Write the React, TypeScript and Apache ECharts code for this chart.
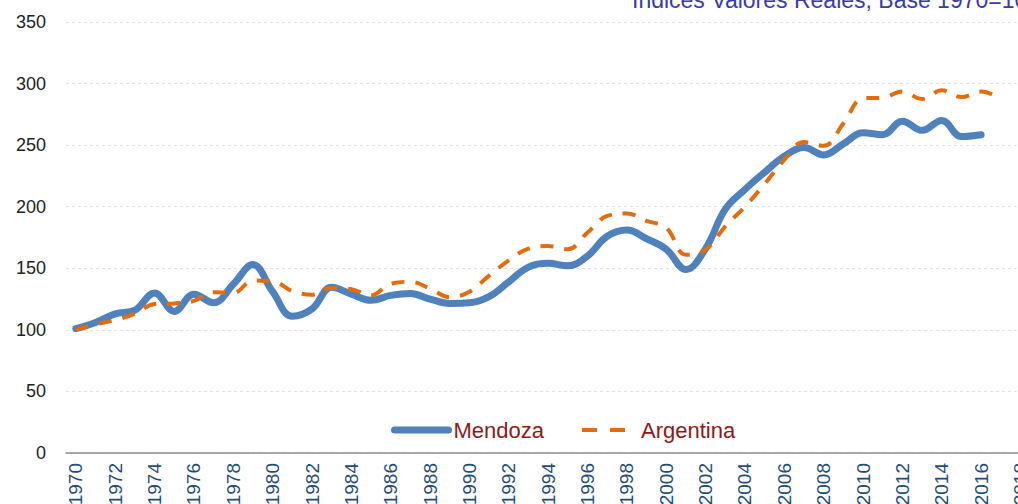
import React, { useEffect, useRef } from "react";
import * as echarts from "echarts";

const years = [
  "1970", "1971", "1972", "1973", "1974", "1975", "1976", "1977", "1978", "1979",
  "1980", "1981", "1982", "1983", "1984", "1985", "1986", "1987", "1988", "1989",
  "1990", "1991", "1992", "1993", "1994", "1995", "1996", "1997", "1998", "1999",
  "2000", "2001", "2002", "2003", "2004", "2005", "2006", "2007", "2008", "2009",
  "2010", "2011", "2012", "2013", "2014", "2015", "2016", "2017", "2018",
];

// Mendoza 1970–2016
const mendoza = [
  101, 106, 113, 116, 130, 115, 129, 122, 137, 153,
  131, 111, 117, 134.5, 129, 124, 128, 129.5, 125, 121.5,
  122, 127, 139, 151, 154, 152, 160, 176, 181, 174,
  165.5, 149, 166, 198, 214, 228, 241, 248, 242, 251,
  260, 258.5, 269.5, 262, 270, 257, 258.5,
];

// Argentina 1970–2017
const argentina = [
  100, 104.5, 108, 113, 121, 121.5, 123.5, 130.5, 130, 140,
  139.5, 131.5, 128.5, 134, 133, 128, 137.5, 139, 133.5, 126.5,
  131, 144, 156.5, 166, 168, 165.5, 179, 192.5, 194.5, 188.5,
  183, 161, 165, 184, 200, 218.5, 238, 252.5, 249.5, 267.5,
  288, 288.5, 293.5, 287.5, 294.5, 289, 293.5, 287.5,
];

const yMin = 0;
const yMax = 350;
const yStep = 50;

const titleText = "Indices Valores Reales, Base 1970=100";

const MENDOZA_COLOR = "#4f81bd";
const ARG_COLOR = "#e46c0a";

export default function App() {
  const ref = useRef<HTMLDivElement>(null);

  useEffect(() => {
    const chart = echarts.init(ref.current!, null, { renderer: "svg" });
    chart.setOption({
      animation: false,
      backgroundColor: "#ffffff",
      title: {
        text: titleText,
        left: 632,
        top: -12,
        padding: 0,
        textStyle: {
          color: "#3b3bab",
          fontSize: 23,
          fontWeight: "normal",
          fontFamily: "Liberation Sans, Arial, sans-serif",
        },
      },
      legend: {
        data: [
          { name: "Mendoza", lineStyle: { width: 7, color: MENDOZA_COLOR, type: "solid" } },
          { name: "Argentina", lineStyle: { width: 4, color: ARG_COLOR, type: [15, 13] } },
        ],
        left: 386,
        top: 414,
        itemWidth: 54,
        itemHeight: 18,
        itemGap: 36,
        itemStyle: { opacity: 0 },
        textStyle: {
          color: "#8b1a1a",
          fontSize: 22,
          fontFamily: "Liberation Sans, Arial, sans-serif",
        },
      },
      grid: {
        left: 66,
        top: 22,
        width: years.length * 19.68,
        height: 431,
        containLabel: false,
        outerBoundsMode: "none",
      },
      xAxis: {
        type: "category",
        data: years,
        boundaryGap: true,
        axisLine: { show: true, lineStyle: { color: "#8c8c8c", width: 1.5 } },
        axisTick: { show: false },
        axisLabel: {
          interval: 1,
          rotate: 90,
          margin: 10,
          color: "#1f4e79",
          fontSize: 19,
          fontFamily: "Liberation Sans, Arial, sans-serif",
        },
        splitLine: { show: false },
      },
      yAxis: {
        type: "value",
        min: yMin,
        max: yMax,
        interval: yStep,
        axisLine: { show: false },
        axisTick: { show: false },
        axisLabel: {
          margin: 20,
          color: "#222222",
          fontSize: 18,
          fontFamily: "Liberation Sans, Arial, sans-serif",
        },
        splitLine: {
          show: true,
          lineStyle: { color: "#e3e3e3", type: [3, 3], width: 1 },
        },
      },
      series: [
        {
          name: "Mendoza",
          type: "line",
          data: mendoza,
          smooth: 0.4,
          symbol: "none",
          lineStyle: { color: MENDOZA_COLOR, width: 7, cap: "round", join: "round" },
          itemStyle: { color: MENDOZA_COLOR },
          z: 2,
        },
        {
          name: "Argentina",
          type: "line",
          data: argentina,
          smooth: 0.4,
          symbol: "none",
          lineStyle: { color: ARG_COLOR, width: 4, type: [13, 11] },
          itemStyle: { color: ARG_COLOR },
          z: 3,
        },
      ],
    });
    return () => chart.dispose();
  }, []);

  return (
    <div
      ref={ref}
      style={{ position: "fixed", left: 0, top: 0, width: 1018, height: 504 }}
    />
  );
}
